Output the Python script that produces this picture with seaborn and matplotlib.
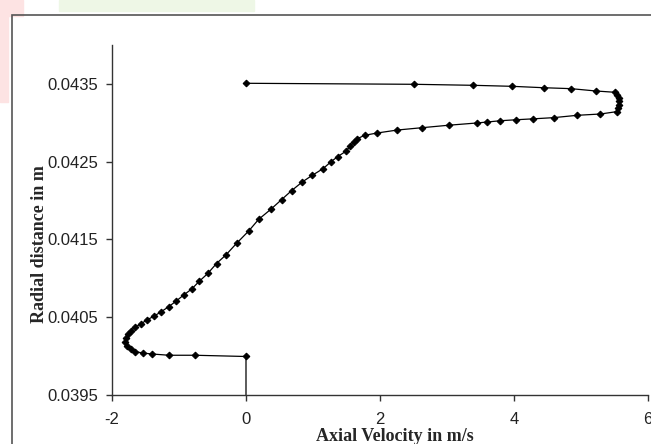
import numpy as np
import pandas as pd
import matplotlib.pyplot as plt
import matplotlib.patches as mpatches
import seaborn as sns

# axial velocity (m/s) and radial distance (m), bottom to top
velocity = [0.0, 0.0, -0.76, -1.15, -1.40, -1.54, -1.65, -1.72, -1.77, -1.80,
            -1.79, -1.76, -1.72, -1.66, -1.57, -1.48, -1.38, -1.27, -1.15, -1.04,
            -0.93, -0.81, -0.70, -0.57, -0.44, -0.30, -0.14, 0.04, 0.19, 0.37,
            0.53, 0.68, 0.84, 0.99, 1.15, 1.27, 1.37, 1.49, 1.55, 1.61,
            1.66, 1.77, 1.96, 2.26, 2.63, 3.03, 3.44, 3.60, 3.79, 4.03,
            4.29, 4.59, 4.94, 5.29, 5.53, 5.55, 5.56, 5.56, 5.56, 5.54,
            5.51, 5.22, 4.85, 4.44, 3.97, 3.39, 2.51, 0.0]
radius = [0.03950, 0.039995, 0.040011, 0.040011, 0.040027, 0.040040, 0.040057, 0.040088, 0.040130, 0.040186,
          0.040229, 0.040281, 0.040327, 0.040371, 0.040413, 0.040465, 0.040510, 0.040568, 0.040638, 0.040709,
          0.040786, 0.040863, 0.040960, 0.041063, 0.041191, 0.041301, 0.041451, 0.041609, 0.041760, 0.041888,
          0.042012, 0.042128, 0.042240, 0.042326, 0.042411, 0.042501, 0.042567, 0.042634, 0.042696, 0.042754,
          0.042796, 0.042840, 0.042870, 0.042908, 0.042938, 0.042970, 0.042998, 0.043011, 0.043027, 0.043040,
          0.043052, 0.043067, 0.043097, 0.043114, 0.043144, 0.043185, 0.043230, 0.043275, 0.043320, 0.043359,
          0.043393, 0.043410, 0.043440, 0.043452, 0.043470, 0.043483, 0.043496, 0.043509]

x_ticks = [-2, 0, 2, 4, 6]
y_ticks = [0.0395, 0.0405, 0.0415, 0.0425, 0.0435]

df = pd.DataFrame({'velocity': velocity, 'radius': radius})

sns.set_style('ticks')
plt.rcParams['font.family'] = ['Liberation Sans', 'DejaVu Sans']

fig = plt.figure(figsize=(6.51, 4.44), dpi=100)
# faint watermark blobs and the outer frame of the original page
fig.patches.append(mpatches.Rectangle((0, 0.77), 0.013, 0.23, transform=fig.transFigure,
                                      color='#fde3e3', zorder=0))
fig.patches.append(mpatches.Rectangle((0, 0.965), 0.035, 0.035, transform=fig.transFigure,
                                      color='#fde3e3', zorder=0))
fig.patches.append(mpatches.Rectangle((0.09, 0.975), 0.30, 0.025, transform=fig.transFigure,
                                      color='#eef7e6', zorder=0))
fig.patches.append(mpatches.Rectangle((0.018, -0.1), 1.2, 1.066, transform=fig.transFigure,
                                      fill=False, edgecolor='#555555', linewidth=1.2, zorder=1))

ax = fig.add_axes([0.172, 0.1104, 0.8235, 0.788])
ax.patch.set_alpha(0)
sns.lineplot(data=df, x='velocity', y='radius', sort=False, estimator=None, ax=ax,
             color='black', linewidth=0.9, marker='D', markersize=3.4,
             markeredgecolor='black', markevery=list(range(1, len(df))))

ax.set_xlim(-2, 6)
ax.set_ylim(0.0395, 0.044)
ax.set_xticks(x_ticks)
ax.set_xticklabels([str(v) for v in x_ticks])
ax.set_yticks(y_ticks)
ax.set_yticklabels([f'{v:.4f}' for v in y_ticks])
ax.tick_params(axis='both', labelsize=12, length=4, width=1, color='#333333', labelcolor='#222222')
ax.tick_params(axis='y', pad=6)
ax.tick_params(axis='x', pad=8)
for s in ['top', 'right']:
    ax.spines[s].set_visible(False)
for s in ['left', 'bottom']:
    ax.spines[s].set_color('#333333')
    ax.spines[s].set_linewidth(1)

ax.set_xlabel('Axial Velocity in m/s', fontsize=13, fontweight='bold', family='Liberation Serif')
ax.set_ylabel('Radial distance in m', fontsize=13, fontweight='bold', family='Liberation Serif')
ax.xaxis.set_label_coords(0.528, -0.093)
ax.yaxis.set_label_coords(-0.12, 0.43)

plt.savefig('out.png', dpi=100)
